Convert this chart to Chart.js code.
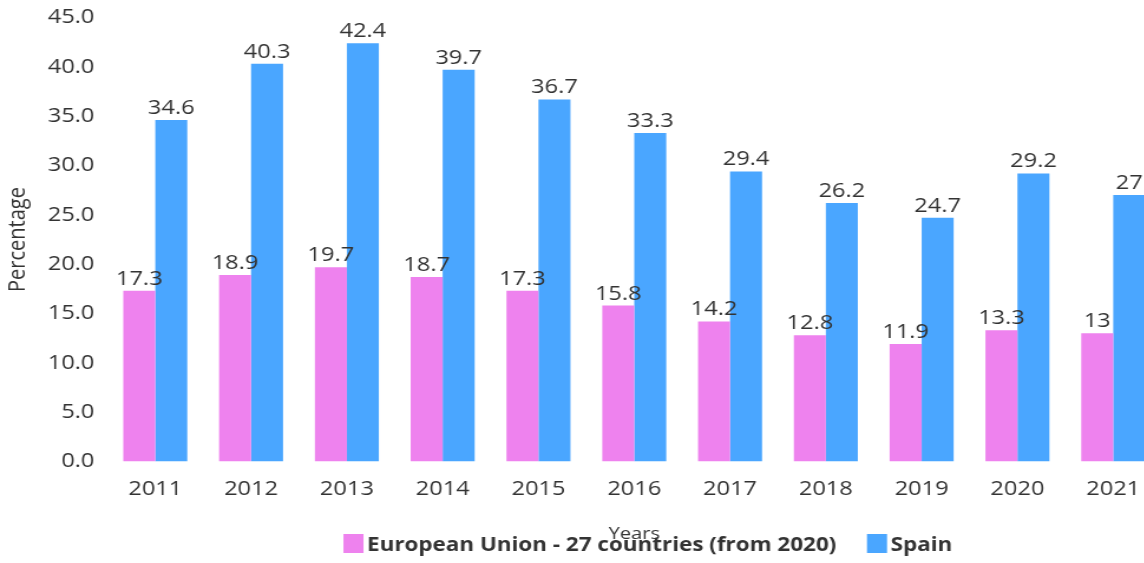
<!DOCTYPE html>
<html><head><meta charset="utf-8">
<script src="https://cdn.jsdelivr.net/npm/chart.js@4/dist/chart.umd.min.js"></script>
<style>
html,body{margin:0;padding:0;overflow:hidden;background:#fff;width:1144px;height:563px;}
#c{position:absolute;left:0;top:0;transform:scaleX(1.18);transform-origin:0 0;}
</style></head><body>
<canvas id="c" width="1000" height="563" style="width:1000px;height:563px"></canvas>
<script>
const years = ['2011','2012','2013','2014','2015','2016','2017','2018','2019','2020','2021'];
const euValues = [17.3, 18.9, 19.7, 18.7, 17.3, 15.8, 14.2, 12.8, 11.9, 13.3, 13];
const spainValues = [34.6, 40.3, 42.4, 39.7, 36.7, 33.3, 29.4, 26.2, 24.7, 29.2, 27];
const seriesNames = ['European Union - 27 countries (from 2020)', 'Spain'];
const seriesColors = ['#EE82EE', '#4AA6FF'];
const yMin = 0, yMax = 45, yStep = 5;
const xTitle = 'Years';
const yTitle = 'Percentage';

Chart.defaults.font.family = '"Open Sans", "Noto Sans", sans-serif';
Chart.defaults.color = '#333';

const valueLabels = {
  id: 'valueLabels',
  afterDatasetsDraw(chart) {
    const ctx = chart.ctx;
    ctx.save();
    ctx.font = '20px "Open Sans"';
    ctx.fillStyle = '#333';
    ctx.textAlign = 'center';
    ctx.textBaseline = 'alphabetic';
    chart.data.datasets.forEach((ds, i) => {
      chart.getDatasetMeta(i).data.forEach((bar, j) => {
        ctx.fillText(String(ds.data[j]), bar.x, bar.y - 6);
      });
    });
    ctx.restore();
  }
};

const customLegend = {
  id: 'customLegend',
  afterDraw(chart) {
    const ctx = chart.ctx;
    ctx.save();
    ctx.font = 'bold 19px "Open Sans"';
    ctx.textBaseline = 'middle';
    ctx.textAlign = 'left';
    const boxW = 17, boxH = 19, gapText = 3, gapItem = 26;
    const items = chart.data.datasets.map(d => ({label: d.label, color: d.backgroundColor, w: ctx.measureText(d.label).width}));
    let total = 0;
    items.forEach((it, i) => { total += boxW + gapText + it.w + (i ? gapItem : 0); });
    let x = 549 - total / 2;
    const top = 534;
    items.forEach(it => {
      ctx.fillStyle = it.color;
      ctx.fillRect(x, top, boxW, boxH);
      ctx.fillStyle = '#333';
      ctx.fillText(it.label, x + boxW + gapText, top + boxH / 2 + 2);
      x += boxW + gapText + it.w + gapItem;
    });
    ctx.restore();
  }
};

new Chart(document.getElementById('c'), {
  type: 'bar',
  data: {
    labels: years,
    datasets: [
      {label: seriesNames[0], data: euValues, backgroundColor: seriesColors[0], borderWidth: 0, categoryPercentage: 0.668, barPercentage: 1},
      {label: seriesNames[1], data: spainValues, backgroundColor: seriesColors[1], borderWidth: 0, categoryPercentage: 0.668, barPercentage: 1}
    ]
  },
  options: {
    responsive: false,
    animation: false,
    layout: {padding: {top: 17.5, right: 16, left: 0, bottom: 0}},
    plugins: {legend: {display: false}, tooltip: {enabled: false}},
    scales: {
      x: {
        grid: {display: false, drawTicks: false},
        border: {display: false},
        ticks: {font: {size: 20}, padding: 16, color: '#333'},
        title: {display: true, text: xTitle, font: {size: 17}, color: '#333', padding: {top: 0, bottom: 19}},
        afterFit(s) { s.height = 101.5; s.paddingLeft = 0; s.paddingRight = 0; }
      },
      y: {
        min: yMin, max: yMax,
        grid: {display: false, drawTicks: false},
        border: {display: false},
        ticks: {stepSize: yStep, font: {size: 20}, padding: 11, color: '#333', callback: v => Number(v).toFixed(1)},
        title: {display: true, text: yTitle, font: {size: 20}, color: '#333', padding: {top: 3, bottom: 0}},
        afterFit(s) { s.width = 91; s.paddingTop = 0; s.paddingBottom = 0; }
      }
    }
  },
  plugins: [valueLabels, customLegend]
});
</script>
</body></html>
